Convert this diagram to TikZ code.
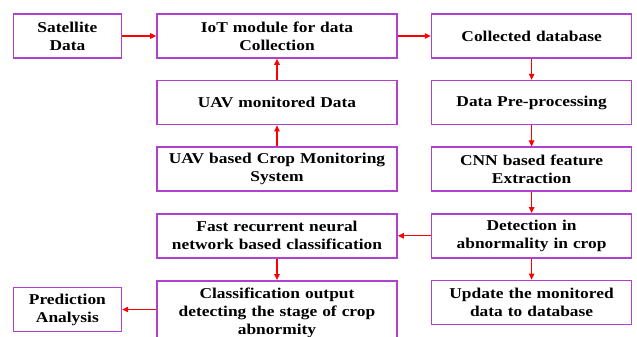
\documentclass[tikz,border=0pt]{standalone}
\usepackage{fontspec}
\setmainfont{Liberation Serif}[FakeStretch=1.16]
\usetikzlibrary{positioning, arrows.meta, shadows}
\definecolor{boxpurple}{RGB}{176,64,206}

\begin{document}
\begin{tikzpicture}[
            block/.style={draw=boxpurple, line width=1.6pt, fill=white, align=center,
                minimum height=44pt, inner sep=2pt,
                drop shadow={opacity=0.18, shadow xshift=0.8pt, shadow yshift=-0.8pt},
                font=\bfseries\fontsize{15}{18}\selectfont},
            sblock/.style={block, minimum width=108pt, text width=100pt},
            mblock/.style={block, minimum width=240pt, text width=232pt},
            rblock/.style={block, minimum width=200pt, text width=192pt},
            arrow/.style={-{Triangle[length=6pt, width=5.5pt]}, red, line width=1.1pt}
        ]
            \useasboundingbox (0,0) rectangle (637pt,-337pt);

            \node [mblock] (iot) at (277pt,-36pt) {IoT module for data\\Collection};
            \node [left=34pt of iot, sblock] (sat) {Satellite\\Data};
            \node [right=33pt of iot, rblock] (db) {Collected database};
            \node [below=21pt of iot, mblock] (uav) {UAV monitored Data};
            \node [below=21pt of uav, mblock] (sys) {UAV based Crop Monitoring\\System};
            \node [below=21pt of sys, mblock] (frnn) {Fast recurrent neural\\network based classification};
            \node [mblock, minimum height=64pt, anchor=north] (cls) at (frnn.south |- 0,-280pt) {Classification output\\detecting the stage of crop\\abnormity};
            \node [sblock] (pred) at (sat.center |- 0,-309.5pt) {Prediction\\Analysis};
            \node [below=21pt of db, rblock] (pre) {Data Pre-processing};
            \node [below=21pt of pre, rblock] (cnn) {CNN based feature\\Extraction};
            \node [below=21pt of cnn, rblock] (det) {Detection in\\abnormality in crop};
            \node [below=21pt of det, rblock] (upd) {Update the monitored\\data to database};

            \draw [arrow] (sat) -- (iot);
            \draw [arrow] (iot) -- (db);
            \draw [arrow] (db) -- (pre);
            \draw [arrow] (pre) -- (cnn);
            \draw [arrow] (cnn) -- (det);
            \draw [arrow] (det) -- (upd);
            \draw [arrow] (det) -- (frnn);
            \draw [arrow] (frnn) -- (cls);
            \draw [arrow] (cls.west |- pred) -- (pred);
            \draw [arrow] (sys) -- (uav);
            \draw [arrow] (uav) -- (iot);

        \end{tikzpicture}
\end{document}
